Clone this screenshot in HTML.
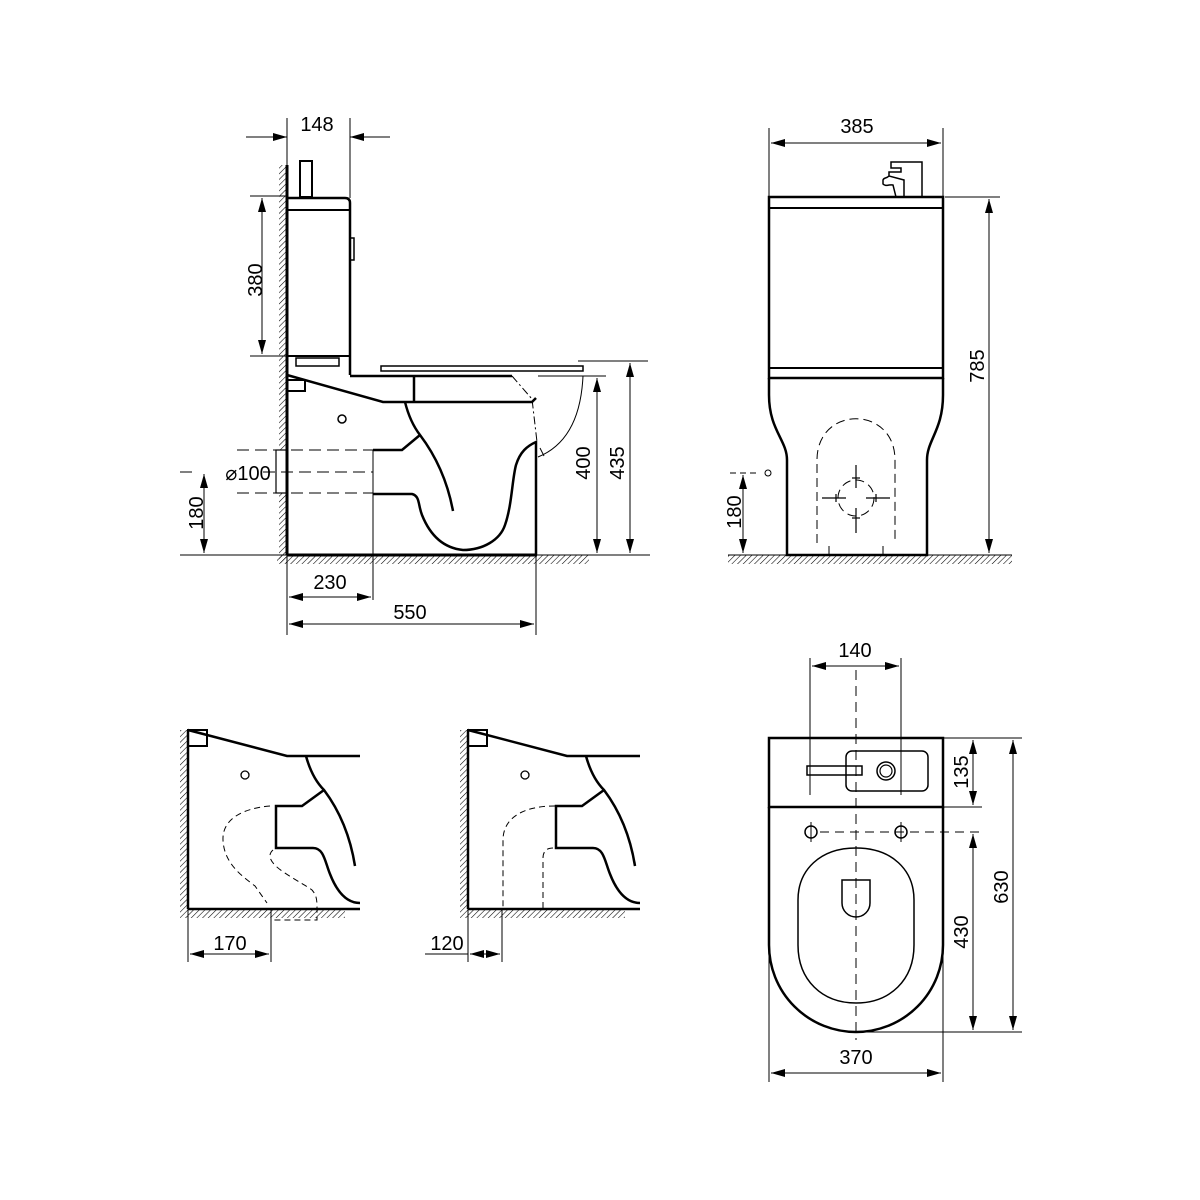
<!DOCTYPE html>
<html><head><meta charset="utf-8"><style>
html,body{margin:0;padding:0;background:#fff;}
svg{display:block;}
text{font-family:"Liberation Sans",sans-serif;font-size:20px;fill:#000;}
</style></head><body>
<svg width="1200" height="1200" viewBox="0 0 1200 1200" xmlns="http://www.w3.org/2000/svg">
<defs>
<pattern id="h" width="4" height="4" patternUnits="userSpaceOnUse" patternTransform="rotate(45)">
<line x1="0" y1="0" x2="0" y2="4" stroke="#000" stroke-width="1.1"/>
</pattern>
<marker id="a" markerWidth="14" markerHeight="8" refX="14" refY="4" orient="auto" markerUnits="userSpaceOnUse">
<path d="M0,0 L14,4 L0,8 Z" fill="#000"/>
</marker>
<marker id="b" markerWidth="14" markerHeight="8" refX="0" refY="4" orient="auto" markerUnits="userSpaceOnUse">
<path d="M14,0 L0,4 L14,8 Z" fill="#000"/>
</marker>
</defs>
<g fill="none" stroke="#000" stroke-width="1">

<!-- ===== SIDE VIEW ===== -->
<rect x="279" y="165" width="8" height="285" fill="url(#h)" stroke="none"/>
<rect x="279" y="493" width="8" height="70" fill="url(#h)" stroke="none"/>
<rect x="277" y="555" width="312" height="9" fill="url(#h)" stroke="none"/>
<rect x="276" y="450" width="11" height="43" stroke-width="1.2"/>
<line x1="180" y1="555" x2="650" y2="555"/>
<line x1="287" y1="555" x2="537" y2="555" stroke-width="3"/>
<line x1="287" y1="165" x2="287" y2="555" stroke-width="3"/>
<!-- tank -->
<path d="M287,198 L345,198 Q350,198 350,203 L350,375" stroke-width="2.5"/>
<line x1="287" y1="210" x2="350" y2="210" stroke-width="2"/>
<line x1="287" y1="356" x2="350" y2="356" stroke-width="2"/>
<rect x="300" y="161" width="12" height="36" stroke-width="2"/>
<rect x="350" y="238" width="4" height="22" stroke-width="1.5"/>
<rect x="296" y="358" width="43" height="8" stroke-width="1.5"/>
<!-- seat -->
<rect x="381" y="366" width="202" height="5" stroke-width="1.5"/>
<line x1="350" y1="376" x2="512" y2="376" stroke-width="2.5"/>
<line x1="414" y1="376" x2="414" y2="402" stroke-width="2.5"/>
<path d="M287,375 L383,402 L532,402 L536,398" stroke-width="2.5"/>
<rect x="287" y="380" width="18" height="11" stroke-width="2"/>
<circle cx="342" cy="419" r="4" stroke-width="1.5"/>
<path d="M512,376 L532,399 L537,442" stroke-dasharray="8,3,2,3" stroke-width="1"/>
<path d="M583,376 Q580,440 538,457" stroke-width="1"/>
<line x1="540" y1="448" x2="544" y2="456"/>
<!-- bowl -->
<path d="M405,402 Q410,422 420,435 Q445,468 453,511" stroke-width="2.5"/>
<path d="M420,435 L402,450 L373,450" stroke-width="2.5"/>
<path d="M373,494 L412,494 C420,496 418,505 422,515 C430,535 443,548 463,550 C483,550 500,540 505,525 C512,505 512,480 516,465 C520,452 527,446 536,442 L536,555" stroke-width="2.5"/>
<line x1="373" y1="450" x2="373" y2="600" stroke-width="1"/>
<!-- dashed pipe -->
<g stroke-dasharray="12,6">
<line x1="237" y1="450" x2="373" y2="450"/>
<line x1="263" y1="472" x2="373" y2="472"/>
<line x1="237" y1="493" x2="373" y2="493"/>
<line x1="180" y1="472" x2="196" y2="472"/>
</g>
<!-- dims side -->
<line x1="287" y1="118" x2="287" y2="165"/>
<line x1="350" y1="118" x2="350" y2="198"/>
<line x1="246" y1="137" x2="287" y2="137" marker-end="url(#a)"/>
<line x1="390" y1="137" x2="350" y2="137" marker-end="url(#a)"/>
<line x1="250" y1="196" x2="287" y2="196"/>
<line x1="250" y1="356" x2="287" y2="356"/>
<line x1="262" y1="198" x2="262" y2="354" marker-start="url(#b)" marker-end="url(#a)"/>
<line x1="204" y1="474" x2="204" y2="553" marker-start="url(#b)" marker-end="url(#a)"/>
<line x1="538" y1="376" x2="606" y2="376"/>
<line x1="578" y1="361" x2="648" y2="361"/>
<line x1="597" y1="378" x2="597" y2="553" marker-start="url(#b)" marker-end="url(#a)"/>
<line x1="630" y1="363" x2="630" y2="553" marker-start="url(#b)" marker-end="url(#a)"/>
<line x1="287" y1="555" x2="287" y2="635"/>
<line x1="536" y1="555" x2="536" y2="635"/>
<line x1="289" y1="597" x2="371" y2="597" marker-start="url(#b)" marker-end="url(#a)"/>
<line x1="289" y1="624" x2="534" y2="624" marker-start="url(#b)" marker-end="url(#a)"/>

<!-- ===== FRONT VIEW ===== -->
<rect x="728" y="555" width="284" height="9" fill="url(#h)" stroke="none"/>
<line x1="728" y1="555" x2="1012" y2="555"/>
<rect x="769" y="197" width="174" height="181" stroke-width="2.5"/>
<line x1="769" y1="208" x2="943" y2="208" stroke-width="2"/>
<line x1="769" y1="368" x2="943" y2="368" stroke-width="2"/>
<path d="M769,378 L769,395 C769,430 787,440 787,460 L787,555 L927,555 L927,460 C927,440 943,430 943,395 L943,378" stroke-width="2.5"/>
<path d="M904,197 L904,180 L889,176 C886,179 884,177 883,180 L883,184 C886,187 889,184 893,185 L896,197 M889,176 L889,172 L901,172 L901,168 L891,168 L891,162 L922,162 L922,197" stroke-width="1.5"/>
<g stroke-dasharray="9,5">
<path d="M817,543 L817,460 C817,405 895,405 895,460 L895,543"/>
<circle cx="856" cy="498" r="18"/>
</g>
<line x1="829" y1="546" x2="829" y2="555"/><line x1="883" y1="546" x2="883" y2="555"/>
<g stroke-width="1.2">
<line x1="822" y1="498" x2="846" y2="498"/><line x1="866" y1="498" x2="890" y2="498"/>
<line x1="856" y1="465" x2="856" y2="488"/><line x1="856" y1="508" x2="856" y2="533"/>
<line x1="836" y1="494" x2="836" y2="502"/><line x1="876" y1="494" x2="876" y2="502"/>
<line x1="852" y1="478" x2="860" y2="478"/><line x1="852" y1="518" x2="860" y2="518"/>
</g>
<line x1="730" y1="473" x2="760" y2="473" stroke-dasharray="6,4"/>
<circle cx="768" cy="473" r="3"/>
<line x1="743" y1="475" x2="743" y2="553" marker-start="url(#b)" marker-end="url(#a)"/>
<line x1="769" y1="128" x2="769" y2="197"/>
<line x1="943" y1="128" x2="943" y2="197"/>
<line x1="771" y1="143" x2="941" y2="143" marker-start="url(#b)" marker-end="url(#a)"/>
<line x1="945" y1="197" x2="1000" y2="197"/>
<line x1="989" y1="199" x2="989" y2="553" marker-start="url(#b)" marker-end="url(#a)"/>

<!-- ===== BOTTOM-LEFT VIEWS ===== -->
<g id="bv">
<rect x="180" y="730" width="8" height="179" fill="url(#h)" stroke="none"/>
<rect x="180" y="909" width="165" height="9" fill="url(#h)" stroke="none"/>
<line x1="188" y1="730" x2="188" y2="909" stroke-width="2.5"/>
<line x1="188" y1="909" x2="360" y2="909" stroke-width="2.5"/>
<path d="M188,730 L287,756 L360,756" stroke-width="2.5"/>
<rect x="188" y="730" width="19" height="16" stroke-width="2"/>
<circle cx="245" cy="775" r="4" stroke-width="1.3"/>
<path d="M306,756 Q312,778 324,790 Q348,822 355,866" stroke-width="2.5"/>
<path d="M324,790 L302,806 L276,806 L276,848 L313,848 C324,848 325,862 330,874 C337,892 347,903 360,903" stroke-width="2.5"/>
</g>
<use href="#bv" x="280" y="0"/>
<g stroke-dasharray="6,4">
<path d="M270,806 C245,808 222,818 223,840 C224,865 245,878 255,886 L267,903"/>
<path d="M273,850 C266,856 272,864 282,871 C295,880 307,886 312,890 C317,896 317,900 317,910 L317,920 L272,920"/>
<path d="M555,806 C520,806 503,820 503,840 L503,909"/>
<path d="M553,848 C546,848 543,852 543,858 L543,909"/>
</g>
<line x1="188" y1="909" x2="188" y2="962"/>
<line x1="271" y1="909" x2="271" y2="962"/>
<line x1="190" y1="954" x2="269" y2="954" marker-start="url(#b)" marker-end="url(#a)"/>
<line x1="468" y1="909" x2="468" y2="962"/>
<line x1="502" y1="909" x2="502" y2="962"/>
<line x1="425" y1="954" x2="468" y2="954"/>
<line x1="470" y1="954" x2="500" y2="954" marker-start="url(#b)" marker-end="url(#a)"/>

<!-- ===== TOP VIEW ===== -->
<rect x="769" y="738" width="174" height="69" stroke-width="2.5"/>
<path d="M769,807 L769,945 A87,87 0 0 0 943,945 L943,807" stroke-width="2.5"/>
<rect x="846" y="751" width="82" height="40" rx="6" stroke-width="1.5"/>
<rect x="807" y="766" width="55" height="9" stroke-width="1.5"/>
<circle cx="886" cy="771" r="9" stroke-width="1.5"/>
<circle cx="886" cy="771" r="6" stroke-width="1.2"/>
<path d="M798,900 L798,900 C798,870 820,848 856,848 C892,848 914,870 914,900 L914,945 C914,980 890,1003 856,1003 C822,1003 798,980 798,945 Z" stroke-width="1.5"/>
<path d="M842,880 L870,880 L870,903 A14,14 0 0 1 842,903 Z" stroke-width="1.5"/>
<circle cx="811" cy="832" r="6" stroke-width="1.5"/>
<circle cx="901" cy="832" r="6" stroke-width="1.5"/>
<line x1="811" y1="822" x2="811" y2="842"/><line x1="901" y1="822" x2="901" y2="842"/>
<line x1="820" y1="832" x2="985" y2="832" stroke-dasharray="9,6"/>
<line x1="856" y1="670" x2="856" y2="1040" stroke-dasharray="10,6"/>
<line x1="810" y1="658" x2="810" y2="795"/>
<line x1="901" y1="658" x2="901" y2="795"/>
<line x1="812" y1="666" x2="899" y2="666" marker-start="url(#b)" marker-end="url(#a)"/>
<line x1="943" y1="738" x2="1022" y2="738"/>
<line x1="943" y1="807" x2="982" y2="807"/>
<line x1="860" y1="1032" x2="1022" y2="1032"/>
<line x1="973" y1="740" x2="973" y2="805" marker-start="url(#b)" marker-end="url(#a)"/>
<line x1="973" y1="834" x2="973" y2="1030" marker-start="url(#b)" marker-end="url(#a)"/>
<line x1="1013" y1="740" x2="1013" y2="1030" marker-start="url(#b)" marker-end="url(#a)"/>
<line x1="769" y1="945" x2="769" y2="1082"/>
<line x1="943" y1="945" x2="943" y2="1082"/>
<line x1="771" y1="1073" x2="941" y2="1073" marker-start="url(#b)" marker-end="url(#a)"/>
</g>

<!-- texts -->
<text x="317" y="131" text-anchor="middle">148</text>
<text transform="translate(262,280) rotate(-90)" text-anchor="middle">380</text>
<text x="248" y="480" text-anchor="middle">⌀100</text>
<text transform="translate(203,513) rotate(-90)" text-anchor="middle">180</text>
<text transform="translate(590,463) rotate(-90)" text-anchor="middle">400</text>
<text transform="translate(624,463) rotate(-90)" text-anchor="middle">435</text>
<text x="330" y="589" text-anchor="middle">230</text>
<text x="410" y="619" text-anchor="middle">550</text>
<text x="857" y="133" text-anchor="middle">385</text>
<text transform="translate(741,512) rotate(-90)" text-anchor="middle">180</text>
<text transform="translate(984,366) rotate(-90)" text-anchor="middle">785</text>
<text x="230" y="950" text-anchor="middle">170</text>
<text x="447" y="950" text-anchor="middle">120</text>
<text x="855" y="657" text-anchor="middle">140</text>
<text transform="translate(968,772) rotate(-90)" text-anchor="middle">135</text>
<text transform="translate(968,932) rotate(-90)" text-anchor="middle">430</text>
<text transform="translate(1008,887) rotate(-90)" text-anchor="middle">630</text>
<text x="856" y="1064" text-anchor="middle">370</text>
</svg>
</body></html>
